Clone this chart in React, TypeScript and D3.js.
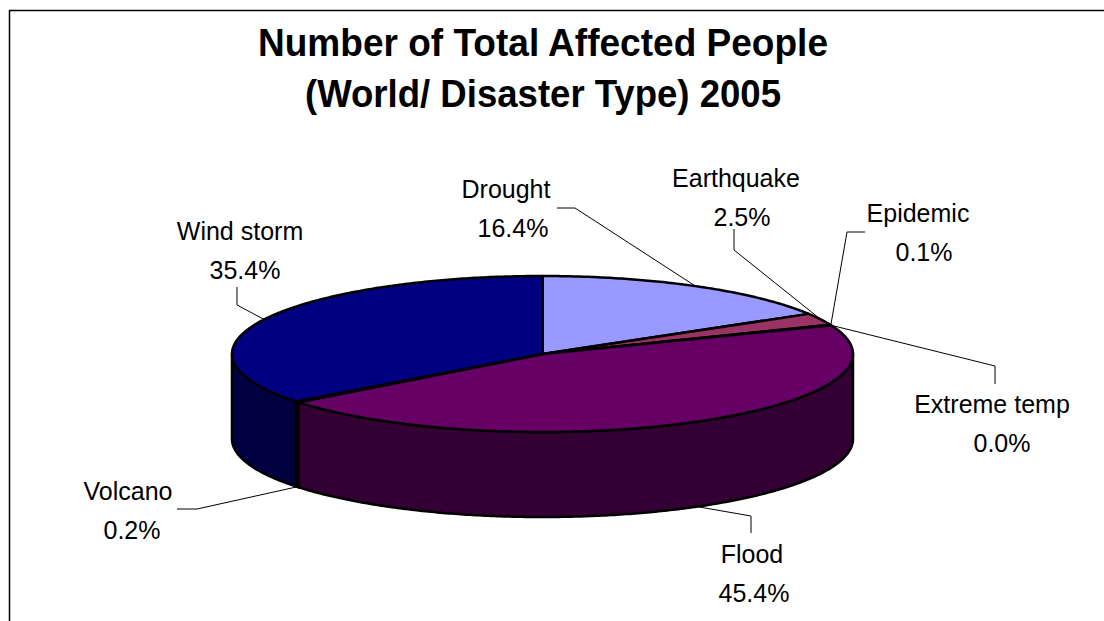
import React from "react";
import * as d3 from "d3";

// values (percent of total affected people, 2005)
const categories = ["Drought", "Earthquake", "Epidemic", "Extreme temp", "Flood", "Volcano", "Wind storm"];
const shares = [16.4, 2.5, 0.1, 0.0, 45.4, 0.2, 35.4];
const sliceColors = ["#9999FF", "#993366", "#FFFFCC", "#CCFFFF", "#660066", "#0066CC", "#000080"];
const titleLines = ["Number of Total Affected People", "(World/ Disaster Type) 2005"];
const titleWidths = [570, 476];

// label placement: name/percent centers, baseline of first line, leader elbows
const labelLayout: Record<string, { nx: number; px: number; y: number; leader: number[][] }> = {
  "Drought": { nx: 506, px: 513, y: 198, leader: [[575, 208], [557, 208]] },
  "Earthquake": { nx: 736, px: 742, y: 187, leader: [[734, 250], [734, 229]] },
  "Epidemic": { nx: 918, px: 924, y: 222, leader: [[847, 232], [865, 232]] },
  "Extreme temp": { nx: 992, px: 1002, y: 413, leader: [[995, 366], [995, 384]] },
  "Flood": { nx: 752, px: 754, y: 563, leader: [[751, 516], [751, 533]] },
  "Volcano": { nx: 128, px: 132, y: 500, leader: [[197, 509], [177, 509]] },
  "Wind storm": { nx: 240, px: 245, y: 240, leader: [[237, 305], [237, 287]] },
};

const W = 1104, H = 621;
const cx = 542.5, cy = 354, rx = 310.5, ry = 78, depth = 85;

function pt(a: number, dy = 0): [number, number] {
  return [cx + rx * Math.sin(a), cy - ry * Math.cos(a) + dy];
}

function arcPts(a0: number, a1: number, dy = 0) {
  const n = Math.max(2, Math.ceil(Math.abs(a1 - a0) / 0.01));
  return d3.range(n + 1).map(i => pt(a0 + (a1 - a0) * i / n, dy));
}

function shade(c: string) {
  const rgb = d3.rgb(c);
  return d3.rgb(rgb.r * 0.5, rgb.g * 0.5, rgb.b * 0.5).formatHex();
}

export default function App() {
  const total = d3.sum(shares);
  const arcs = d3.pie<number>().sort(null).value(d => d).startAngle(0).endAngle(2 * Math.PI)(shares);
  const line = d3.line();
  const fmt = (v: number) => d3.format(".1f")(v / total * 100) + "%";

  const walls = arcs.map((a, i) => {
    const s = Math.max(a.startAngle, Math.PI / 2);
    const e = Math.min(a.endAngle, 3 * Math.PI / 2);
    if (e <= s) return null;
    const pts = arcPts(s, e).concat(arcPts(e, s, depth));
    return <path key={"w" + i} d={line(pts) + "Z"} fill={shade(sliceColors[i])} stroke="#000" strokeWidth={2.5} strokeLinejoin="round" />;
  });

  const tops = arcs.map((a, i) => {
    if (a.endAngle - a.startAngle <= 0) return null;
    const pts = [[cx, cy] as [number, number]].concat(arcPts(a.startAngle, a.endAngle));
    return <path key={"t" + i} d={line(pts) + "Z"} fill={sliceColors[i]} stroke="#000" strokeWidth={2.5} strokeLinejoin="round" />;
  });

  const labels = arcs.map((a, i) => {
    const name = categories[i];
    const lay = labelLayout[name];
    const mid = (a.startAngle + a.endAngle) / 2;
    const front = mid > Math.PI / 2 && mid < 3 * Math.PI / 2;
    const anchor = pt(mid, front ? depth : 0);
    const pts = [anchor as number[]].concat(lay.leader) as [number, number][];
    return (
      <g key={"l" + i}>
        <path d={line(pts) ?? ""} fill="none" stroke="#000" strokeWidth={1} />
        <text x={lay.nx} y={lay.y} textAnchor="middle">{name}</text>
        <text x={lay.px} y={lay.y + 39} textAnchor="middle">{fmt(shares[i])}</text>
      </g>
    );
  });

  return (
    <svg width={W} height={H} style={{ position: "fixed", left: 0, top: 0, background: "#fff" }}
      fontFamily="'Liberation Sans', Arial, sans-serif">
      <rect x={0} y={0} width={W} height={H} fill="#fff" />
      <path d={`M9.5,${H} V10.5 H${W}`} fill="none" stroke="#000" strokeWidth={1.5} />
      <g fontWeight="bold" fontSize={39} textAnchor="middle" fill="#000">
        {titleLines.map((t, i) => (
          <text key={i} x={543} y={56 + i * 50.5} textLength={titleWidths[i]} lengthAdjust="spacingAndGlyphs">{t}</text>
        ))}
      </g>
      {walls}
      {tops}
      <g fontSize={25} fill="#000">{labels}</g>
    </svg>
  );
}
